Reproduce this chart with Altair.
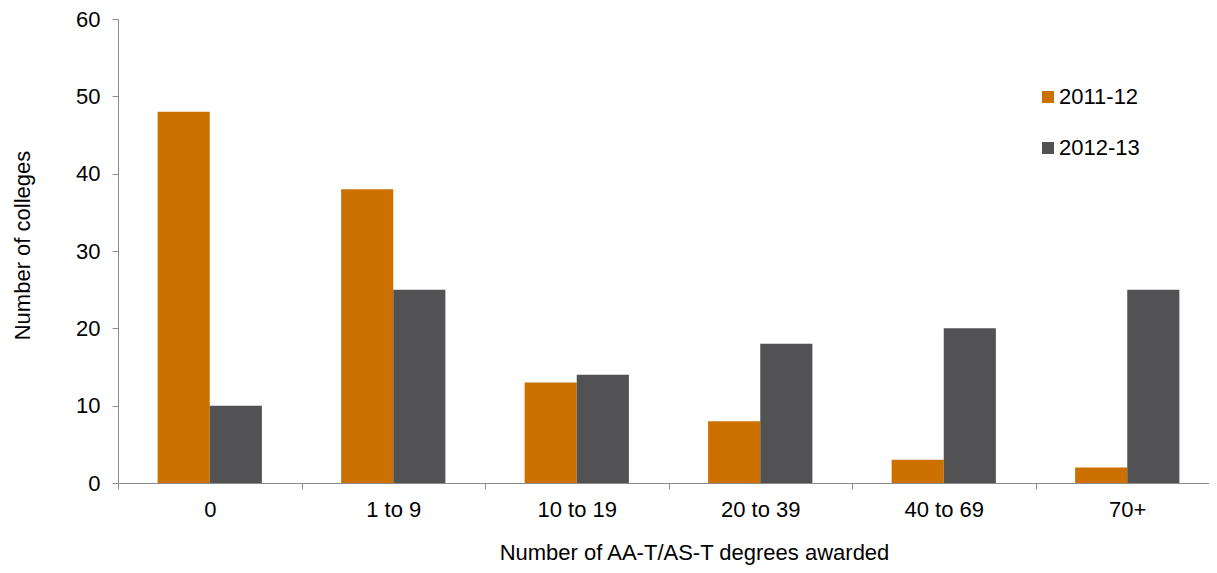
import altair as alt
import pandas as pd

categories = ["0", "1 to 9", "10 to 19", "20 to 39", "40 to 69", "70+"]
series = ["2011-12", "2012-13"]
values_2011 = [48, 38, 13, 8, 3, 2]
values_2012 = [10, 25, 14, 18, 20, 25]
colors = ["#CC7000", "#525254"]

rows = []
for c, a, b in zip(categories, values_2011, values_2012):
    rows.append({"cat": c, "series": series[0], "value": a})
    rows.append({"cat": c, "series": series[1], "value": b})
df = pd.DataFrame(rows)

FONT = "Liberation Sans"
FS = 22

chart = alt.Chart(df).mark_bar().encode(
    x=alt.X("cat:N", sort=categories,
            scale=alt.Scale(paddingInner=0, paddingOuter=0, range=[0, 1101]),
            axis=alt.Axis(title="Number of AA-T/AS-T degrees awarded", labelAngle=0,
                          tickBand="extent", tickSize=6, domainColor="#8c8c8c",
                          tickColor="#8c8c8c", labelFontSize=FS, labelFont=FONT,
                          labelColor="#000000", labelPadding=10,
                          titleFont=FONT, titleFontSize=FS, titleFontWeight="normal",
                          titleColor="#000000", titleX=576, titleY=76,
                          titleBaseline="alphabetic")),
    xOffset=alt.XOffset("series:N", sort=series,
                        scale=alt.Scale(paddingInner=0, paddingOuter=0.76)),
    y=alt.Y("value:Q", scale=alt.Scale(domain=[0, 60]),
            axis=alt.Axis(title="Number of colleges", values=[0, 10, 20, 30, 40, 50, 60],
                          grid=False, tickSize=6, domainColor="#8c8c8c",
                          tickColor="#8c8c8c", labelFontSize=FS, labelFont=FONT,
                          labelColor="#000000", labelPadding=12,
                          titleFont=FONT, titleFontSize=FS, titleFontWeight="normal",
                          titleColor="#000000", titleX=-89, titleY=226,
                          titleBaseline="alphabetic")),
    color=alt.Color("series:N", sort=series,
                    scale=alt.Scale(domain=series, range=colors),
                    legend=alt.Legend(title=None, orient="none", legendX=919, legendY=67,
                                      symbolType="square", symbolSize=144,
                                      symbolStrokeWidth=0, labelFontSize=FS,
                                      labelFont=FONT, labelColor="#000000",
                                      rowPadding=29, padding=0, labelOffset=0)),
).properties(
    width=1091, height=464,
    autosize=alt.AutoSizeParams(type="none"),
    padding={"left": 110, "top": 11, "right": 0, "bottom": 82},
).configure_view(stroke=None).configure_axis(grid=False)

chart.save("out.html", embed_options={"renderer": "svg", "actions": False})
